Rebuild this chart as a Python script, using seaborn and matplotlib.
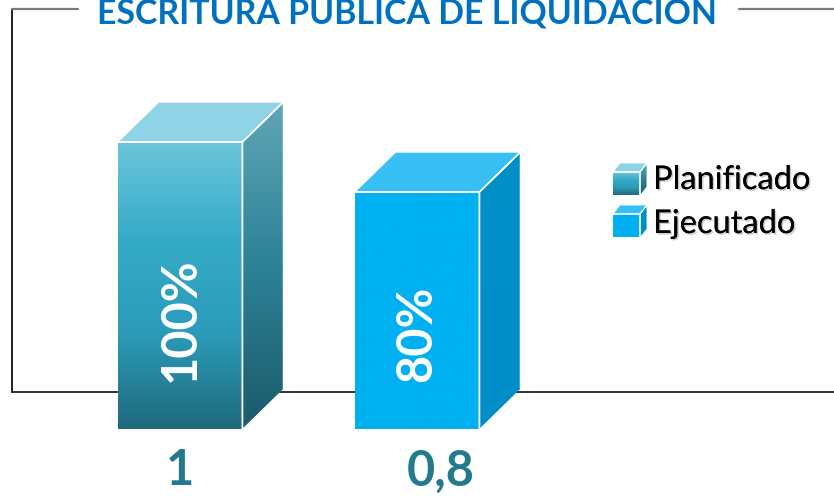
import numpy as np
import pandas as pd
import matplotlib
matplotlib.use("Agg")
import matplotlib.pyplot as plt
import seaborn as sns
from matplotlib.patches import Polygon
from matplotlib.colors import LinearSegmentedColormap
import matplotlib.patheffects as pe

# chart data
TITLE = "ESCRITURA PUBLICA DE LIQUIDACION"
series = ["Planificado", "Ejecutado"]
values = [1.0, 0.8]
pct_labels = ["100%", "80%"]
value_labels = ["1", "0,8"]

# styling
front_grad = [["#1f6a7c", "#2b9bb8", "#35abc8", "#6cc5db"], ["#00b0f0", "#00b0f0"]]
side_grad = [["#1b5a6a", "#2d8296", "#5fa6b6"], ["#008ec6", "#0090c8"]]
top_cols = ["#8fd4e6", "#38bff3"]
BASE = -0.146          # floor of the 3d bars
DX, DY = 0.173, 0.16   # depth of the 3d bars
W = 0.527
FONT = "Lato"


def px(x, y):
    # figure pixel (from top-left) -> data coords
    return (x - 180) / 237.0, 1 + (142 - y) / 250.0


def grad_fill(ax, cols, extent, clip):
    cmap = LinearSegmentedColormap.from_list("g", cols)
    img = ax.imshow(np.linspace(0, 1, 256).reshape(-1, 1), cmap=cmap, origin="lower",
                    extent=extent, aspect="auto", zorder=clip.get_zorder() + 0.1,
                    interpolation="bilinear")
    img.set_clip_path(clip)


def cube(ax, x0, y0, x1, y1, dx, dy, fcols, scols, tcol, z, lw=1.0):
    front = Polygon([(x0, y0), (x1, y0), (x1, y1), (x0, y1)], closed=True,
                    facecolor=fcols[-1], edgecolor="none", zorder=z)
    ax.add_patch(front)
    grad_fill(ax, fcols, [x0, x1, y0, y1], front)
    side = Polygon([(x1, y0), (x1 + dx, y0 + dy), (x1 + dx, y1 + dy), (x1, y1)], closed=True,
                   facecolor=scols[-1], edgecolor="none", zorder=z)
    ax.add_patch(side)
    grad_fill(ax, scols, [x1, x1 + dx, y0, y1 + dy], side)
    top = Polygon([(x0, y1), (x0 + dx, y1 + dy), (x1 + dx, y1 + dy), (x1, y1)], closed=True,
                  facecolor=tcol, edgecolor="none", zorder=z)
    ax.add_patch(top)
    # white edges
    ax.plot([x0, x0 + dx, x1 + dx, x1, x0, x1, x1, x1, x1 + dx, x1 + dx],
            [y1, y1 + dy, y1 + dy, y1, y1, y1, y0, y1, y1 + dy, y0 + dy],
            color="white", lw=lw, zorder=z + 0.5, solid_joinstyle="miter")


sns.set_theme(style="white")
plt.rcParams["font.family"] = [FONT, "DejaVu Sans"]

fig = plt.figure(figsize=(8.34, 4.96), dpi=100)
ax = fig.add_axes([0, 0, 1, 1])

df = pd.DataFrame({"serie": series, "valor": np.array(values) - BASE})
sns.barplot(data=df, x="serie", y="valor", hue="serie", palette=[c[-1] for c in front_grad],
            width=W, ax=ax, legend=False, linewidth=0, saturation=1, errorbar=None)

bars = list(ax.patches)
for i, b in enumerate(bars):
    x0, w = b.get_x(), b.get_width()
    y0 = BASE
    y1 = BASE + b.get_height()
    b.set_visible(False)
    cube(ax, x0, y0, x0 + w, y1, DX, DY, front_grad[i], side_grad[i], top_cols[i], z=3)
    ax.text(x0 + w / 2, px(0, 382)[1], pct_labels[i], rotation=90, ha="center", va="bottom",
            color="white", fontsize=35, fontweight="bold", zorder=6)

# labels under bars
lab_x = [px(180, 0)[0], px(441, 0)[0]]
lab_y = [px(0, 485)[1], px(0, 486)[1]]
for i, t in enumerate(value_labels):
    ax.text(lab_x[i], lab_y[i], t, ha="center", va="baseline", color="#23798d",
            fontsize=35, fontweight="bold")

# frame lines
fx0, fy_floor = px(12, 392)
_, fy_top = px(0, 9)
ax.plot([fx0, px(834, 0)[0]], [fy_floor, fy_floor], color="#222222", lw=1.3, zorder=1)
ax.plot([fx0, fx0], [fy_floor, fy_top], color="#111111", lw=1.3, zorder=1)
ax.plot([fx0, px(78, 0)[0]], [fy_top, fy_top], color="#7a7a7a", lw=1.6, zorder=1)
ax.plot([px(739, 0)[0], px(834, 0)[0]], [fy_top, fy_top], color="#7a7a7a", lw=1.6, zorder=1)

# title
tx, ty = px(97, 23)
ttl = ax.text(tx, ty, TITLE, ha="left", va="baseline", color="#0070c0",
              fontsize=24.4, fontweight="bold")

# legend
icon_y = [(172, 195), (214, 237)]
text_base = [189, 233]
shadow = [pe.withSimplePatchShadow(offset=(1.2, -1.2), shadow_rgbFace="#b0b0b0", alpha=0.6),
          pe.Normal()]
for i, s in enumerate(series):
    ix0, iy0 = px(613, icon_y[i][1])
    ix1, iy1 = px(640, icon_y[i][0])
    ddx = 7 / 237.0
    ddy = 9 / 250.0
    cube(ax, ix0, iy0, ix1, iy1, ddx, ddy, front_grad[i], side_grad[i], top_cols[i], z=3, lw=0.6)
    lx, ly = px(653, text_base[i])
    ax.text(lx, ly, s, ha="left", va="baseline", color="black", fontsize=23.5,
            path_effects=shadow)

ax.set_xlim(px(0, 0)[0], px(834, 0)[0])
ax.set_ylim(px(0, 496)[1], px(0, 0)[1])
ax.axis("off")

fig.savefig("out.png", dpi=100)
